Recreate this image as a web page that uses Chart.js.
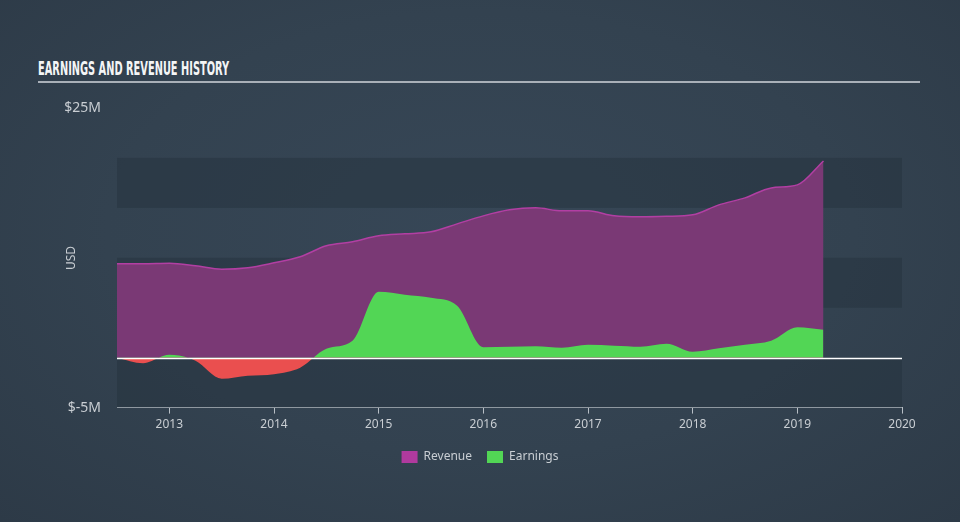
<!DOCTYPE html>
<html>
<head>
<meta charset="utf-8">
<script src="https://cdn.jsdelivr.net/npm/chart.js@4/dist/chart.umd.min.js"></script>
<style>
html, body { margin: 0; padding: 0; }
body {
    width: 960px; height: 522px; overflow: hidden; position: relative;
    background: radial-gradient(ellipse at 50% 45%, #374757 0%, #334250 55%, #2d3a47 100%);
    font-family: 'Noto Sans', sans-serif;
}
#title {
    position: absolute; left: 38px; top: 57px; margin: 0;
    font-family: 'DejaVu Sans Condensed', 'DejaVu Sans', sans-serif;
    font-weight: bold; font-size: 19px; color: #f4f5f6; white-space: nowrap;
    transform-origin: left top; letter-spacing: 0;
}
#rule { position: absolute; left: 38px; top: 81px; width: 882px; height: 2px; background: #a9b0b8; }
#wrap { position: absolute; left: 0; top: 0; width: 960px; height: 522px; }
</style>
</head>
<body>
<h2 id="title">EARNINGS AND REVENUE HISTORY</h2>
<div id="rule"></div>
<div id="wrap"><canvas id="chart"></canvas></div>
<script>
// quarter positions as decimal years
let periods = [2012.5, 2012.75, 2013, 2013.25, 2013.5, 2013.75, 2014, 2014.25, 2014.5, 2014.75,
    2015, 2015.25, 2015.5, 2015.75, 2016, 2016.25, 2016.5, 2016.75, 2017, 2017.25,
    2017.5, 2017.75, 2018, 2018.25, 2018.5, 2018.75, 2019, 2019.25];

// $M
let revenue = [9.4, 9.4, 9.45, 9.2, 8.85, 9.0, 9.5, 10.1, 11.2, 11.6,
    12.2, 12.4, 12.6, 13.4, 14.2, 14.8, 15.0, 14.7, 14.7, 14.2,
    14.1, 14.15, 14.3, 15.3, 16.0, 17.0, 17.3, 19.7];

let earnings = [0, -0.55, 0.3, -0.3, -2.1, -1.8, -1.65, -1.0, 0.9, 1.7,
    6.6, 6.3, 6.0, 5.2, 1.05, 1.1, 1.15, 1.0, 1.3, 1.2,
    1.1, 1.4, 0.6, 0.95, 1.3, 1.7, 3.05, 2.8];

let xTickYears = [2013, 2014, 2015, 2016, 2017, 2018, 2019, 2020];
let yTickValues = [-5, 25];

// squeeze the title to the condensed width of the original
let titleEl = document.getElementById("title");
titleEl.style.transform = "scaleX(" + (191 / titleEl.offsetWidth) + ")";

const GREEN = '#52d655';
const RED = '#ea4f4f';
const PURPLE_LINE = '#b23fa3';
const PURPLE_FILL = '#7a3975';
const TEXT = '#c9ced3';

let bandsPlugin = {
    id: 'bands',
    beforeDatasetsDraw(chart) {
        let {ctx, chartArea, scales} = chart;
        let y = scales.y;
        ctx.save();
        ctx.fillStyle = 'rgba(36, 48, 60, 0.45)';
        for (let lo = -5; lo < 20; lo += 10) {
            let top = y.getPixelForValue(lo + 5);
            let bottom = y.getPixelForValue(lo);
            ctx.fillRect(chartArea.left, top, chartArea.right - chartArea.left, bottom - top);
        }
        ctx.restore();
    },
    afterDatasetsDraw(chart) {
        let {ctx, chartArea, scales} = chart;
        let zero = Math.round(scales.y.getPixelForValue(0)) + 0.5;
        ctx.save();
        ctx.strokeStyle = '#ffffff';
        ctx.lineWidth = 1.5;
        ctx.beginPath();
        ctx.moveTo(chartArea.left, zero);
        ctx.lineTo(chartArea.right, zero);
        ctx.stroke();

        // axis title, sits closer to the tick labels than chart.js would put it
        ctx.fillStyle = TEXT;
        ctx.font = "12px 'Noto Sans'";
        ctx.textAlign = 'center';
        ctx.textBaseline = 'middle';
        ctx.translate(72, 258);
        ctx.rotate(-Math.PI / 2);
        ctx.fillText('USD', 0, 0);
        ctx.restore();
    }
};

new Chart(document.getElementById("chart"), {
    type: 'line',
    data: {
        datasets: [{
            label: 'Revenue',
            data: periods.map((p, i) => ({x: p, y: revenue[i]})),
            borderColor: PURPLE_LINE,
            backgroundColor: PURPLE_FILL,
            borderWidth: 1.5,
            fill: 'origin',
            pointRadius: 0,
            cubicInterpolationMode: 'monotone',
            order: 2
        }, {
            label: 'Earnings',
            data: periods.map((p, i) => ({x: p, y: earnings[i]})),
            borderColor: 'transparent',
            backgroundColor: GREEN,
            borderWidth: 0,
            fill: {target: 'origin', above: GREEN, below: RED},
            pointRadius: 0,
            cubicInterpolationMode: 'monotone',
            order: 1
        }]
    },
    options: {
        responsive: true,
        maintainAspectRatio: false,
        animation: false,
        layout: {padding: {top: 108, right: 0, bottom: 49, left: 0}},
        plugins: {
            tooltip: {enabled: false},
            legend: {
                position: 'bottom',
                labels: {
                    color: TEXT,
                    font: {family: "'Noto Sans'", size: 12},
                    boxWidth: 16,
                    boxHeight: 12,
                    padding: 15,
                    generateLabels: chart => chart.data.datasets.map((ds, i) => ({
                        text: ds.label,
                        fillStyle: i === 0 ? '#b03a9e' : GREEN,
                        strokeStyle: 'transparent',
                        lineWidth: 0,
                        fontColor: TEXT,
                        datasetIndex: i
                    }))
                }
            }
        },
        scales: {
            x: {
                type: 'linear',
                min: 2012.5,
                max: 2020,
                afterBuildTicks: axis => { axis.ticks = xTickYears.map(v => ({value: v})); },
                ticks: {
                    color: TEXT,
                    font: {family: "'Noto Sans'", size: 12},
                    padding: 4,
                    maxRotation: 0,
                    callback: v => String(v)
                },
                grid: {drawOnChartArea: false, drawTicks: true, tickLength: 6, color: '#b8bfc6'},
                border: {display: true, color: '#b8bfc6', width: 1}
            },
            y: {
                min: -5,
                max: 25,
                afterBuildTicks: axis => { axis.ticks = yTickValues.map(v => ({value: v})); },
                afterFit: axis => { axis.width = 117; },
                ticks: {
                    color: TEXT,
                    font: {family: "'Noto Sans'", size: 14},
                    padding: 16,
                    callback: v => '$' + v + 'M'
                },
                grid: {display: false, drawTicks: false},
                border: {display: false}
            },
            // empty right-hand gutter so the legend stays centred on the page
            gutter: {
                type: 'linear',
                position: 'right',
                afterFit: axis => { axis.width = 58; },
                ticks: {display: false},
                grid: {display: false, drawTicks: false},
                border: {display: false}
            }
        }
    },
    plugins: [bandsPlugin]
});
</script>
</body>
</html>
